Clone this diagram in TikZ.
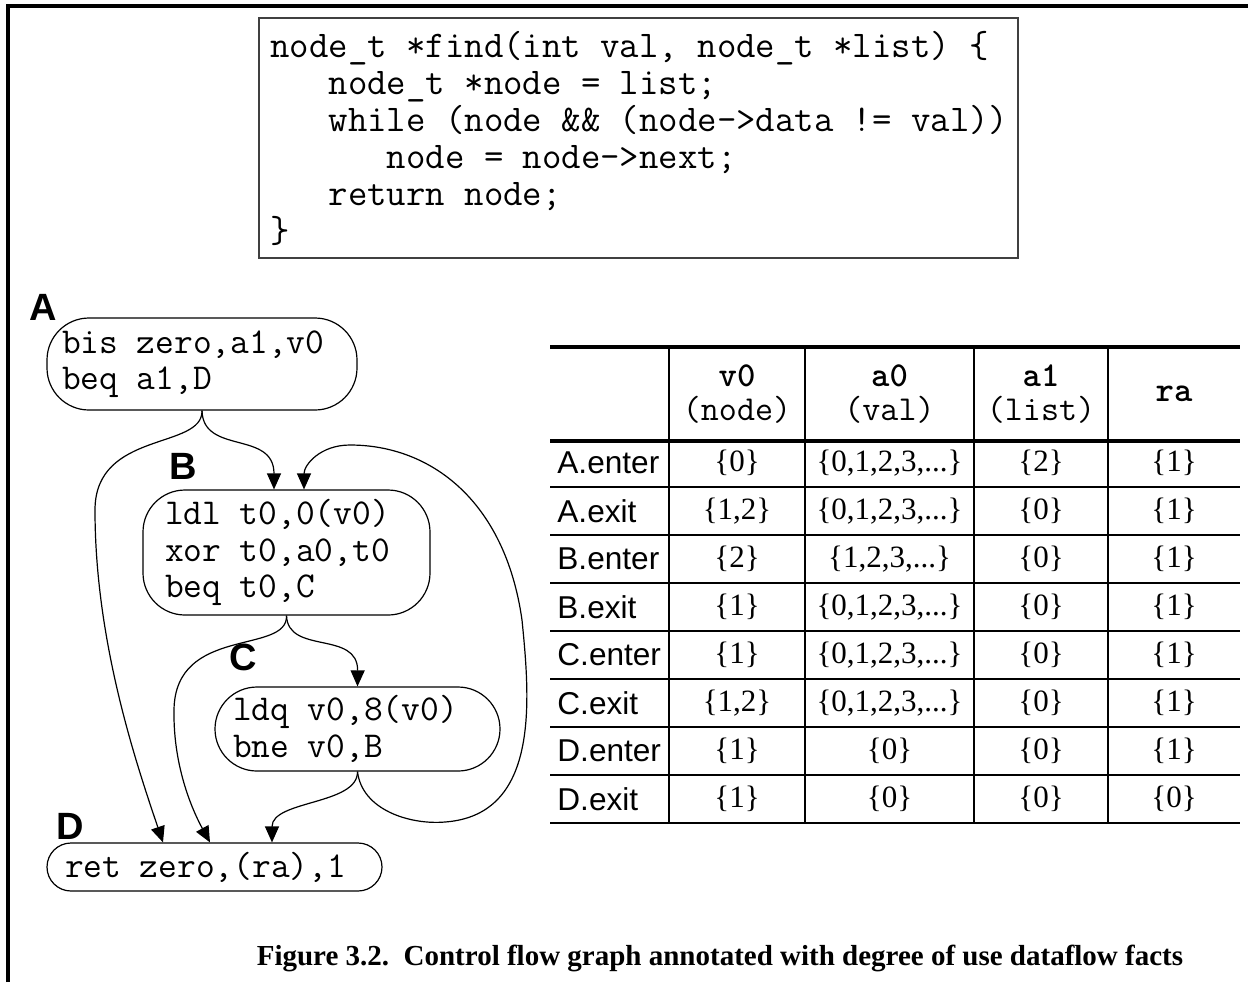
\documentclass[tikz,border=0pt]{standalone}
\usepackage{fontspec}
\setmainfont{Liberation Serif}
\setsansfont{Liberation Sans}
\newfontfamily\hdrbold{lmmonolt10-bold.otf}
\usetikzlibrary{arrows.meta}

\newcommand{\allnum}{\{0,1,2,3,...\}}
\newcommand{\posnum}{\{1,2,3,...\}}
% one blank as wide as a letter of the monospaced font
\newcommand{\ws}{\hphantom{x}}
\newcommand{\monosize}[2]{\fontsize{#1}{#2}\selectfont\ttfamily}

\begin{document}
\begin{tikzpicture}[x=0.5pt,y=-0.5pt,
    blk/.style={draw, line width=0.6pt, rounded corners=21pt, align=left, inner ysep=0pt,
      font=\monosize{18.2}{18.2}},
    tag/.style={inner sep=0pt, font=\fontsize{19}{19}\selectfont\sffamily\bfseries},
    flow/.style={-{Triangle[length=8pt,width=7pt]}, line width=0.6pt},
    hdr/.style={align=center, inner sep=0pt, font=\monosize{17.5}{17}},
    rowlab/.style={anchor=west, inner sep=0pt, font=\fontsize{15.8}{16}\selectfont\sffamily},
    cell/.style={inner sep=0pt, font=\fontsize{15.5}{16}\selectfont},
    thinrule/.style={line width=0.6pt},
    thickrule/.style={line width=2.2pt}]
	\useasboundingbox (0,0) rectangle (1248,982);
	
	% Frame of the figure
	\draw[line width=1.6pt] (8,982) -- (8,6) -- (1248,6);
	
	% Source code
	\node[draw=black!75, line width=1pt, minimum width=379.5pt, minimum height=120pt,
	      text width=368pt, inner xsep=5.75pt, align=left,
	      font=\monosize{18.85}{18.5}] (src) at (638.5,138)
	  {node\_t\ws*find(int\ws val,\ws node\_t\ws*list)\ws\{\\
	   \hphantom{xxx}node\_t\ws*node\ws=\ws list;\\
	   \hphantom{xxx}while\ws(node\ws\&\&\ws(node->data\ws!=\ws val))\\
	   \hphantom{xxxxxx}node\ws=\ws node->next;\\
	   \hphantom{xxx}return\ws node;\\
	   \}};
	
	% Basic blocks
	\node[blk, minimum height=46pt, text width=140pt, inner xsep=7.5pt] (A) at (202,364)
	  {bis\ws zero,a1,v0\\beq\ws a1,D};
	\node[blk, minimum height=62.5pt, text width=121.5pt, inner xsep=11pt] (B) at (286.5,552.5)
	  {ldl\ws t0,0(v0)\\xor\ws t0,a0,t0\\beq\ws t0,C};
	\node[blk, minimum height=42pt, text width=124.5pt, inner xsep=9pt] (C) at (357.5,729)
	  {ldq\ws v0,8(v0)\\bne\ws v0,B};
	\node[blk, rounded corners=12pt, minimum height=24pt, text width=149.5pt, inner xsep=9pt] (D) at (214.5,867)
	  {ret\ws zero,(ra),1};
	
	% Block names
	\node[tag] (labA) at (43,307) {A};
	\node[tag] (labB) at (183,466) {B};
	\node[tag] (labC) at (243,657) {C};
	\node[tag] (labD) at (70,826) {D};
	
	% Entry points on the blocks
	\coordinate (Bin1) at ([xshift=-6.25pt]B.north);
	\coordinate (Bin2) at ([xshift=8.75pt]B.north);
	\coordinate (Din1) at ([xshift=-25.75pt]D.north);
	\coordinate (Din2) at ([xshift=-2.25pt]D.north);
	\coordinate (Din3) at ([xshift=28.75pt]D.north);
	
	% Control flow edges
	\draw[flow] (A.south) .. controls (203,455) and (274,430) .. (Bin1);
	\draw[flow] (A.south) .. controls (203,450) and (95,430) .. (95,510)
	  .. controls (95,640) and (135,760) .. (Din1);
	\draw[flow] (B.south) .. controls (288,655) and (358,630) .. (C.north);
	\draw[flow] (B.south) .. controls (288,655) and (175,625) .. (174,710)
	  .. controls (173,770) and (195,815) .. (Din2);
	\draw[flow] (C.south) .. controls (358,805) and (272,800) .. (Din3);
	\draw[flow] (C.south) .. controls (362,810) and (410,825) .. (445,822)
	  .. controls (540,815) and (530,700) .. (522,620)
	  .. controls (505,500) and (430,445) .. (350,445)
	  .. controls (320,445) and (304,465) .. (Bin2);
	
	% Table of dataflow facts
	\draw[thickrule] (550,347) -- (1240,347);
	\draw[thickrule] (550,441) -- (1240,441);
	\foreach \y in {487,535,...,823}
	  \draw[thinrule] (550,\y) -- (1240,\y);
	\foreach \x in {669,805,974,1108}
	  \draw[thinrule] (\x,347) -- (\x,823);
	
	\node[hdr] (hv0) at (737,394) {{\hdrbold v0}\\(node)};
	\node[hdr] (ha0) at (889.5,394) {{\hdrbold a0}\\(val)};
	\node[hdr] (ha1) at (1041,394) {{\hdrbold a1}\\(list)};
	\node[hdr] (hra) at (1174,394) {{\hdrbold ra}};
	
	\foreach \lab/\cv/\ca/\cb/\cr [count=\i from 0] in {
	    A.enter/\{0\}/\allnum/\{2\}/\{1\},
	    A.exit/{\{1,2\}}/\allnum/\{0\}/\{1\},
	    B.enter/\{2\}/\posnum/\{0\}/\{1\},
	    B.exit/\{1\}/\allnum/\{0\}/\{1\},
	    C.enter/\{1\}/\allnum/\{0\}/\{1\},
	    C.exit/{\{1,2\}}/\allnum/\{0\}/\{1\},
	    D.enter/\{1\}/\{0\}/\{0\}/\{1\},
	    D.exit/\{1\}/\{0\}/\{0\}/\{0\}}
	{
	  \node[rowlab] (lab\i) at (557,463+48*\i) {\lab};
	  \node[cell] (v\i) at (737,463+48*\i) {\cv};
	  \node[cell] (a\i) at (889.5,463+48*\i) {\ca};
	  \node[cell] (l\i) at (1041,463+48*\i) {\cb};
	  \node[cell] (r\i) at (1174,463+48*\i) {\cr};
	}
	
	% Caption
	\node[font=\fontsize{14.5}{15}\selectfont\bfseries] (cap) at (720,958)
	  {Figure 3.2.\ \ Control flow graph annotated with degree of use dataflow facts};
\end{tikzpicture}
\end{document}
